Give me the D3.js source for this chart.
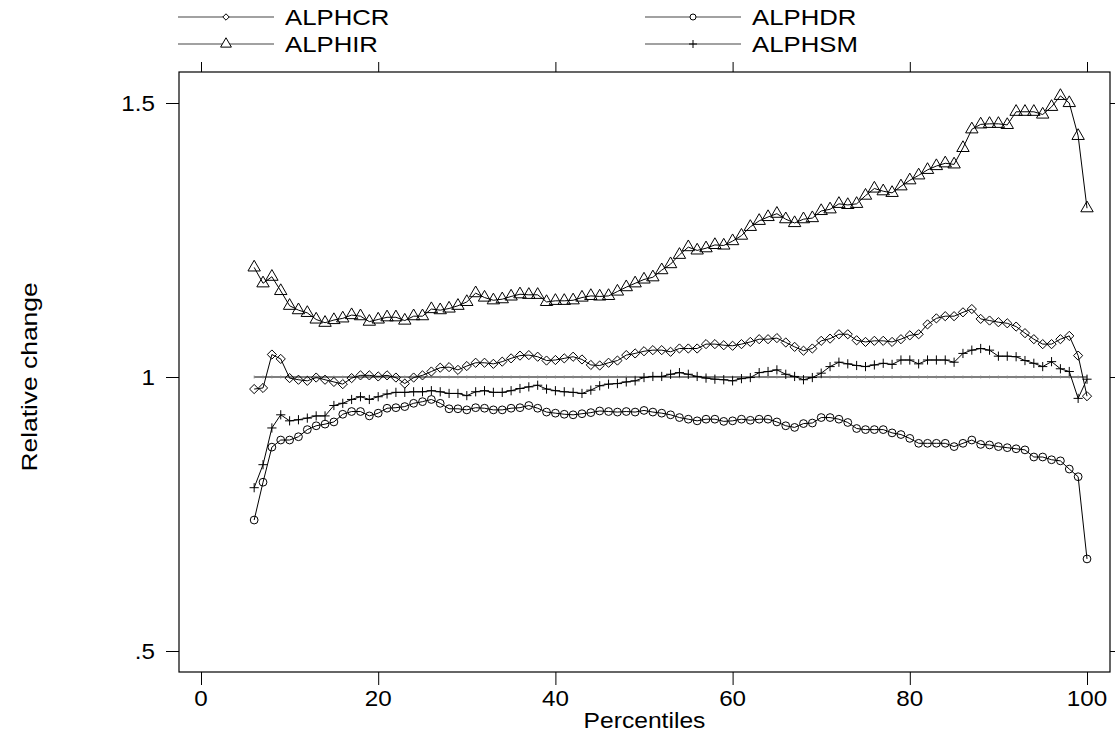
<!DOCTYPE html>
<html><head><meta charset="utf-8">
<script src="https://cdn.jsdelivr.net/npm/d3@7"></script>
<style>body{margin:0;background:#fff}svg{display:block}text{font-family:"Liberation Sans",Arial,sans-serif;fill:#000}</style>
</head><body><svg id="c" width="1115" height="742"></svg>
<script>
const percentiles = d3.range(6, 101);
const alphcr = [0.978,0.980,1.041,1.033,0.998,0.995,0.993,0.999,0.995,0.991,0.987,0.998,1.003,1.003,1.001,1.003,0.999,0.988,0.999,1.003,1.010,1.017,1.018,1.013,1.020,1.026,1.026,1.024,1.028,1.034,1.039,1.040,1.037,1.030,1.031,1.034,1.037,1.032,1.022,1.021,1.026,1.030,1.040,1.043,1.047,1.049,1.049,1.046,1.052,1.052,1.052,1.060,1.060,1.058,1.057,1.060,1.064,1.069,1.069,1.071,1.063,1.055,1.048,1.052,1.066,1.070,1.078,1.078,1.067,1.064,1.066,1.066,1.064,1.069,1.076,1.078,1.096,1.107,1.111,1.111,1.118,1.124,1.106,1.103,1.100,1.098,1.092,1.080,1.069,1.060,1.060,1.069,1.075,1.039,0.965];
const alphdr = [0.739,0.808,0.872,0.885,0.885,0.891,0.904,0.911,0.914,0.918,0.932,0.937,0.937,0.929,0.934,0.943,0.944,0.946,0.952,0.955,0.959,0.952,0.942,0.942,0.940,0.944,0.943,0.940,0.940,0.943,0.944,0.948,0.943,0.936,0.934,0.932,0.931,0.933,0.935,0.938,0.937,0.936,0.937,0.936,0.939,0.936,0.934,0.931,0.926,0.923,0.920,0.923,0.923,0.919,0.920,0.923,0.921,0.923,0.923,0.918,0.911,0.908,0.915,0.916,0.926,0.926,0.923,0.917,0.906,0.904,0.904,0.904,0.898,0.895,0.888,0.879,0.879,0.879,0.879,0.873,0.879,0.885,0.877,0.876,0.873,0.871,0.869,0.867,0.854,0.854,0.849,0.847,0.832,0.818,0.668];
const alphir = [1.200,1.171,1.183,1.157,1.130,1.122,1.117,1.105,1.099,1.104,1.107,1.113,1.111,1.101,1.105,1.109,1.109,1.103,1.111,1.111,1.124,1.122,1.125,1.130,1.137,1.153,1.145,1.140,1.142,1.147,1.151,1.150,1.150,1.137,1.139,1.139,1.140,1.145,1.148,1.147,1.148,1.156,1.164,1.171,1.178,1.182,1.195,1.206,1.223,1.237,1.231,1.235,1.241,1.240,1.248,1.258,1.274,1.285,1.292,1.298,1.288,1.281,1.288,1.290,1.303,1.306,1.316,1.314,1.316,1.331,1.344,1.339,1.336,1.348,1.359,1.368,1.378,1.385,1.390,1.388,1.418,1.452,1.461,1.462,1.462,1.460,1.484,1.484,1.484,1.479,1.493,1.513,1.500,1.440,1.308];
const alphsm = [0.798,0.840,0.907,0.931,0.920,0.922,0.925,0.929,0.929,0.948,0.952,0.959,0.964,0.959,0.964,0.969,0.972,0.972,0.973,0.973,0.975,0.973,0.970,0.970,0.966,0.973,0.975,0.972,0.972,0.975,0.979,0.982,0.985,0.978,0.975,0.973,0.972,0.970,0.976,0.984,0.987,0.988,0.991,0.993,0.999,1.001,1.001,1.005,1.008,1.005,1.001,0.998,0.996,0.995,0.993,0.997,0.999,1.008,1.010,1.013,1.005,1.001,0.995,0.999,1.007,1.019,1.027,1.024,1.021,1.019,1.022,1.025,1.023,1.031,1.031,1.024,1.031,1.031,1.031,1.027,1.043,1.049,1.052,1.049,1.038,1.038,1.037,1.030,1.025,1.019,1.028,1.015,1.010,0.961,0.996];
const referenceValue = 1;
const xTicks = [0, 20, 40, 60, 80, 100];
const yTicks = [0.5, 1, 1.5];
const yTickLabels = [".5", "1", "1.5"];
const legendNames = ["ALPHCR", "ALPHDR", "ALPHIR", "ALPHSM"];

const svg = d3.select("#c");
const L = 179, R = 1110, T = 72, B = 672;
const x = d3.scaleLinear().domain([0, 100]).range([201, 1087]);
const y = d3.scaleLinear().domain([0.5, 1.5]).range([651, 103]);
const FS = 22;

function markerPath(type, s) {
  if (type === "diamond") return `M0,${-s}L${s},0L0,${s}L${-s},0Z`;
  if (type === "circle") return `M${s},0A${s},${s} 0 1,1 ${-s},0A${s},${s} 0 1,1 ${s},0Z`;
  if (type === "triangle") { const h = s * 1.73; return `M0,${-h*2/3}L${s},${h/3}L${-s},${h/3}Z`; }
  if (type === "plus") return `M${-s},0L${s},0M0,${-s}L0,${s}`;
}
const series = [
  {name: "ALPHCR", vals: alphcr, m: "diamond", s: 4.6},
  {name: "ALPHDR", vals: alphdr, m: "circle", s: 3.9},
  {name: "ALPHIR", vals: alphir, m: "triangle", s: 6.2},
  {name: "ALPHSM", vals: alphsm, m: "plus", s: 4.6}
];

function stext(tx, ty, str, anchor, sx, rot) {
  const g = svg.append("g").attr("transform", `translate(${tx},${ty})${rot ? " rotate(" + rot + ")" : ""} scale(${sx},1)`);
  return g.append("text").attr("text-anchor", anchor).style("font-size", FS + "px").text(str);
}

// frame
svg.append("rect").attr("x", L).attr("y", T).attr("width", R - L).attr("height", B - T)
  .attr("fill", "none").attr("stroke", "#000").attr("stroke-width", 1.2);

// axes (tick marks)
const gL = svg.append("g").attr("transform", `translate(${L},0)`)
  .call(d3.axisLeft(y).tickValues(yTicks).tickFormat("").tickSize(13));
const gR = svg.append("g").attr("transform", `translate(${R},0)`)
  .call(d3.axisRight(y).tickValues(yTicks).tickFormat("").tickSize(8));
const gB = svg.append("g").attr("transform", `translate(0,${B})`)
  .call(d3.axisBottom(x).tickValues(xTicks).tickFormat("").tickSize(13));
const gT = svg.append("g").attr("transform", `translate(0,${T})`)
  .call(d3.axisTop(x).tickValues(xTicks).tickFormat("").tickSize(10));
[gL, gR, gB, gT].forEach(g => {
  g.select(".domain").remove();
  g.selectAll("line").attr("stroke", "#000").attr("stroke-width", 1);
});
// tick labels
yTicks.forEach((v, i) => stext(155, y(v), yTickLabels[i], "end", 1.1).attr("dy", "0.36em"));
xTicks.forEach(v => stext(x(v), 706, String(v), "middle", 1.1));

// reference line
svg.append("line").attr("x1", x(6)).attr("x2", x(100)).attr("y1", y(referenceValue)).attr("y2", y(referenceValue))
  .attr("stroke", "#555").attr("stroke-width", 1.4);
svg.append("g").selectAll("line").data(percentiles).join("line")
  .attr("x1", d => x(d)).attr("x2", d => x(d)).attr("y1", y(referenceValue) - 1.5).attr("y2", y(referenceValue) + 1.5)
  .attr("stroke", "#888").attr("stroke-width", 0.8);

const line = d3.line().x(d => x(d[0])).y(d => y(d[1]));
series.forEach(sr => {
  const pts = percentiles.map((p, i) => [p, sr.vals[i]]);
  svg.append("path").datum(pts).attr("d", line).attr("fill", "none").attr("stroke", "#000").attr("stroke-width", 1);
  svg.append("g").selectAll("path").data(pts).join("path")
    .attr("transform", d => `translate(${x(d[0])},${y(d[1])})`)
    .attr("d", markerPath(sr.m, sr.s)).attr("fill", "none").attr("stroke", "#000").attr("stroke-width", 1);
});

// legend
const legPos = [[178, 17], [645, 17], [178, 44], [645, 44]];
const legMarkers = [["diamond", 3.2], ["circle", 3], ["triangle", 5.4], ["plus", 4]];
legendNames.forEach((n, i) => {
  const [lx, ly] = legPos[i];
  const g = svg.append("g").attr("transform", `translate(${lx},${ly})`);
  g.append("line").attr("x1", 0).attr("x2", 96).attr("y1", 0).attr("y2", 0).attr("stroke", "#444").attr("stroke-width", 1.2);
  g.append("path").attr("transform", "translate(48,0)").attr("d", markerPath(legMarkers[i][0], legMarkers[i][1]))
    .attr("fill", "#fff").attr("stroke", "#000").attr("stroke-width", 1);
  stext(lx + 107, ly, n, "start", 1.17).attr("dy", "0.36em");
});

// axis titles
stext((L + R) / 2, 728, "Percentiles", "middle", 1.12);
stext(37, 377, "Relative change", "middle", 1.2, -90);
</script></body></html>
